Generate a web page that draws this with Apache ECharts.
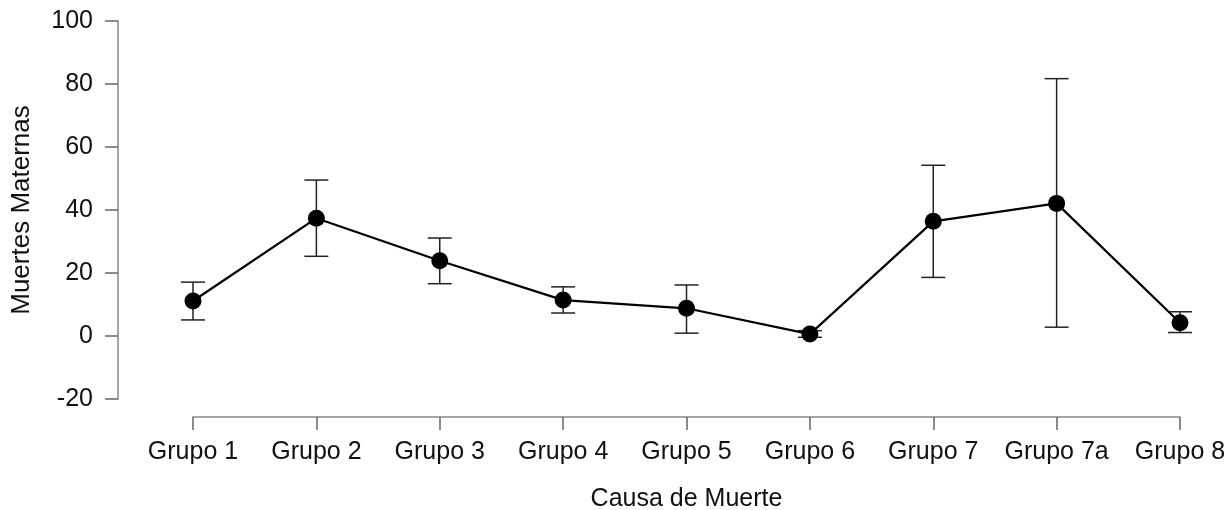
<!DOCTYPE html>
<html>
<head>
<meta charset="utf-8">
<script src="https://cdn.jsdelivr.net/npm/echarts@6/dist/echarts.min.js"></script>
<style>
  html, body { margin: 0; padding: 0; background: #fff; }
  #chart { width: 1228px; height: 510px; }
</style>
</head>
<body>
<div id="chart"></div>
<script>
// datos
var grupos = ["Grupo 1", "Grupo 2", "Grupo 3", "Grupo 4", "Grupo 5", "Grupo 6", "Grupo 7", "Grupo 7a", "Grupo 8"];
var media = [11.1, 37.4, 23.9, 11.4, 8.8, 0.6, 36.4, 42.1, 4.2];
var superior = [17.1, 49.5, 31.1, 15.6, 16.2, 1.7, 54.2, 81.7, 7.7];
var inferior = [5.1, 25.3, 16.6, 7.3, 0.9, -0.4, 18.6, 2.8, 1.1];
var yTicks = [-20, 0, 20, 40, 60, 80, 100];

var barras = [];
for (var i = 0; i < grupos.length; i++) {
    barras.push([i, inferior[i], superior[i]]);
}

var myChart = echarts.init(document.getElementById("chart"));
var fuente = "Liberation Sans, Arial, sans-serif";

option = {
    animation: false,
    grid: { left: 193, right: 48, top: 21, bottom: 111, containLabel: false, outerBoundsMode: "none" },
    xAxis: {
        type: "category",
        data: grupos,
        boundaryGap: false,
        offset: 18,
        name: "Causa de Muerte",
        nameLocation: "middle",
        nameGap: 70,
        nameTextStyle: { fontSize: 25, color: "#111", fontFamily: fuente },
        axisLine: { onZero: false, lineStyle: { color: "#888", width: 1.5 } },
        axisTick: { length: 13, alignWithLabel: true, lineStyle: { color: "#666", width: 1.5 } },
        axisLabel: { fontSize: 25, color: "#111", margin: 23, fontFamily: fuente, interval: 0 },
        splitLine: { show: false }
    },
    yAxis: {
        type: "value",
        min: yTicks[0],
        max: yTicks[yTicks.length - 1],
        interval: 20,
        offset: 75,
        name: "Muertes Maternas",
        nameLocation: "middle",
        nameGap: 83,
        nameTextStyle: { fontSize: 26, color: "#111", fontFamily: fuente },
        axisLine: { show: true, onZero: false, lineStyle: { color: "#888", width: 1.5 } },
        axisTick: { show: true, length: 13, lineStyle: { color: "#666", width: 1.5 } },
        axisLabel: { fontSize: 25, color: "#111", margin: 25, fontFamily: fuente },
        splitLine: { show: false }
    },
    series: [
        {
            type: "custom",
            data: barras,
            z: 1,
            renderItem: function(params, api) {
                var lo = api.coord([api.value(0), api.value(1)]);
                var hi = api.coord([api.value(0), api.value(2)]);
                var w = 12;
                var estilo = { stroke: "#222", lineWidth: 1.5 };
                return {
                    type: "group",
                    children: [
                        { type: "line", shape: { x1: hi[0], y1: hi[1], x2: lo[0], y2: lo[1] }, style: estilo },
                        { type: "line", shape: { x1: hi[0] - w, y1: hi[1], x2: hi[0] + w, y2: hi[1] }, style: estilo },
                        { type: "line", shape: { x1: lo[0] - w, y1: lo[1], x2: lo[0] + w, y2: lo[1] }, style: estilo }
                    ]
                };
            }
        },
        {
            type: "line",
            data: media,
            z: 2,
            symbol: "circle",
            symbolSize: 17,
            lineStyle: { color: "#000", width: 2.2 },
            itemStyle: { color: "#000" }
        }
    ]
};
myChart.setOption(option);
</script>
</body>
</html>
